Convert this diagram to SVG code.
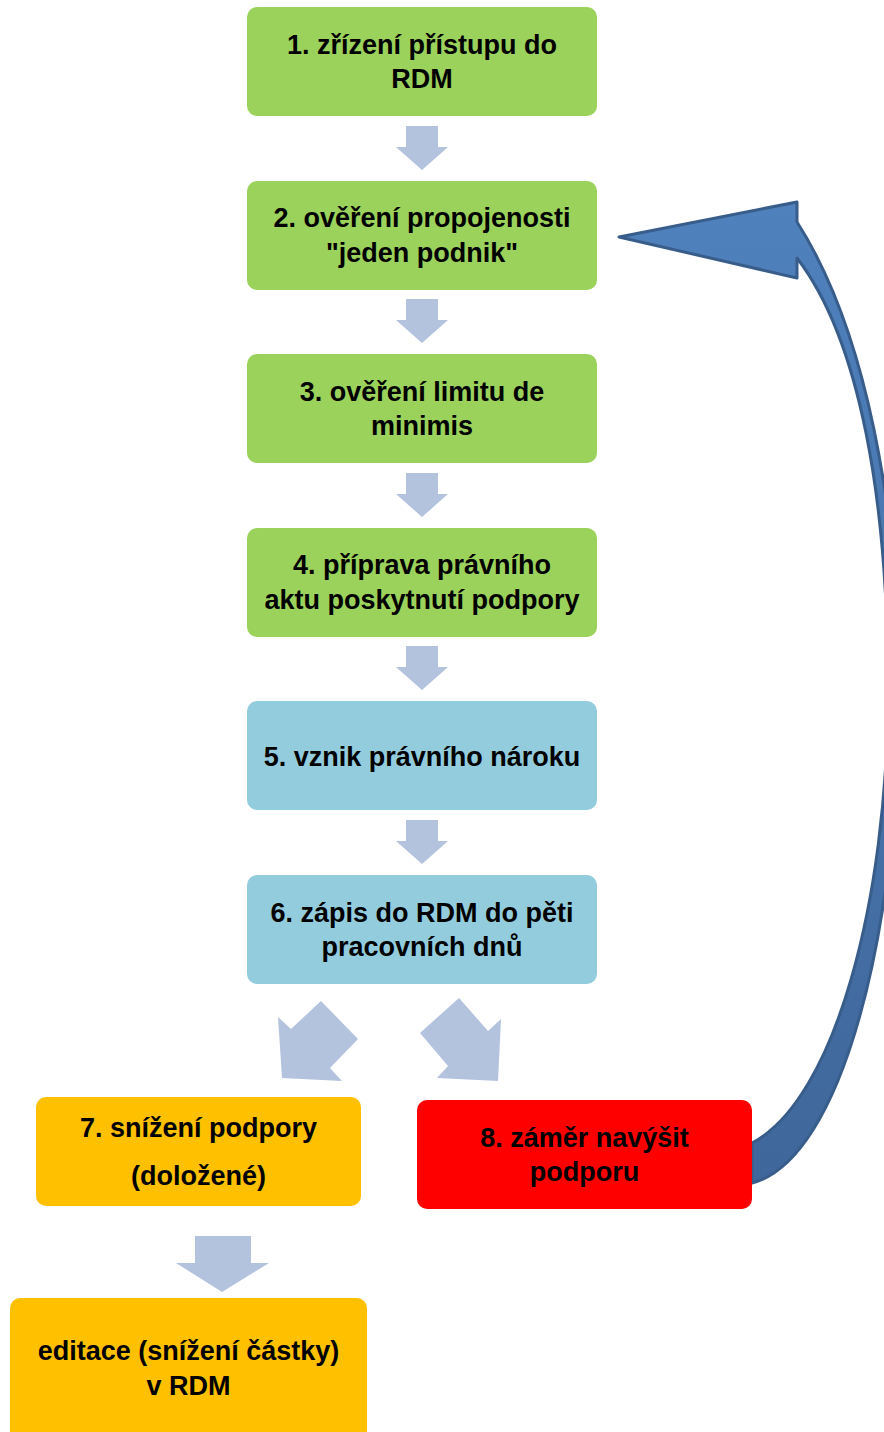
<svg xmlns="http://www.w3.org/2000/svg" width="884" height="1432" viewBox="0 0 884 1432">
  <defs>
    <style>
      .box { stroke: none; }
      .green { fill: #9bd25b; }
      .blue { fill: #93cddd; }
      .orange { fill: #ffc000; }
      .red { fill: #ff0000; }
      .lbl { font-family: "Liberation Sans", Arial, sans-serif; font-weight: bold; font-size: 27px; fill: #000; text-anchor: middle; }
      .down { fill: #b3c3de; }
      .curve { fill: url(#cg); stroke: #385d8a; stroke-width: 3; stroke-linejoin: round; }
    </style>
    <linearGradient id="cg" x1="0" y1="0" x2="0" y2="1">
      <stop offset="0" stop-color="#4f81bd"/>
      <stop offset="1" stop-color="#3f679b"/>
    </linearGradient>
    <path id="dn" d="M-16,0 H16 V21 H26 L0,44 L-26,21 H-16 Z"/>
  </defs>

  <g id="connectors">
    <use href="#dn" class="down" x="422" y="126"/>
    <use href="#dn" class="down" x="422" y="299"/>
    <use href="#dn" class="down" x="422" y="473"/>
    <use href="#dn" class="down" x="422" y="646"/>
    <use href="#dn" class="down" x="422" y="820"/>
    <polygon class="down" points="278,1017 291,1029 321,1001 358,1039 330,1068 342,1081 282,1078"/>
    <polygon class="down" points="420,1033 459,998 488,1031 501,1019 498,1081 437,1078 448,1066"/>
    <path class="down" d="M195,1236 H251 V1263 H269 L222,1292 L176,1263 H195 Z"/>
    <path class="curve" d="M752,1143 C835,1100 888,900 888,690 C888,500 860,340 797,258 L797,278 L619,237 L797,202 L797,222 C866,330 899,510 899,690 C899,930 842,1160 752,1183 Z"/>
  </g>

  <g id="n1">
    <rect class="box green" x="247" y="7" width="350" height="109" rx="10"/>
    <text class="lbl" x="422" y="54">1. zřízení přístupu do</text>
    <text class="lbl" x="422" y="88">RDM</text>
  </g>
  <g id="n2">
    <rect class="box green" x="247" y="181" width="350" height="109" rx="10"/>
    <text class="lbl" x="422" y="227">2. ověření propojenosti</text>
    <text class="lbl" x="422" y="262">"jeden podnik"</text>
  </g>
  <g id="n3">
    <rect class="box green" x="247" y="354" width="350" height="109" rx="10"/>
    <text class="lbl" x="422" y="401">3. ověření limitu de</text>
    <text class="lbl" x="422" y="435">minimis</text>
  </g>
  <g id="n4">
    <rect class="box green" x="247" y="528" width="350" height="109" rx="10"/>
    <text class="lbl" x="422" y="574">4. příprava právního</text>
    <text class="lbl" x="422" y="609">aktu poskytnutí podpory</text>
  </g>
  <g id="n5">
    <rect class="box blue" x="247" y="701" width="350" height="109" rx="10"/>
    <text class="lbl" x="422" y="766">5. vznik právního nároku</text>
  </g>
  <g id="n6">
    <rect class="box blue" x="247" y="875" width="350" height="109" rx="10"/>
    <text class="lbl" x="422" y="922">6. zápis do RDM do pěti</text>
    <text class="lbl" x="422" y="956">pracovních dnů</text>
  </g>
  <g id="n7">
    <rect class="box orange" x="36" y="1097" width="325" height="109" rx="10"/>
    <text class="lbl" x="198.5" y="1137">7. snížení podpory</text>
    <text class="lbl" x="198.5" y="1185">(doložené)</text>
  </g>
  <g id="n8">
    <rect class="box red" x="417" y="1100" width="335" height="109" rx="10"/>
    <text class="lbl" x="584.5" y="1147">8. záměr navýšit</text>
    <text class="lbl" x="584.5" y="1181">podporu</text>
  </g>
  <g id="n9">
    <rect class="box orange" x="10" y="1298" width="357" height="150" rx="10"/>
    <text class="lbl" x="188.5" y="1360">editace (snížení částky)</text>
    <text class="lbl" x="188.5" y="1395">v RDM</text>
  </g>
</svg>
